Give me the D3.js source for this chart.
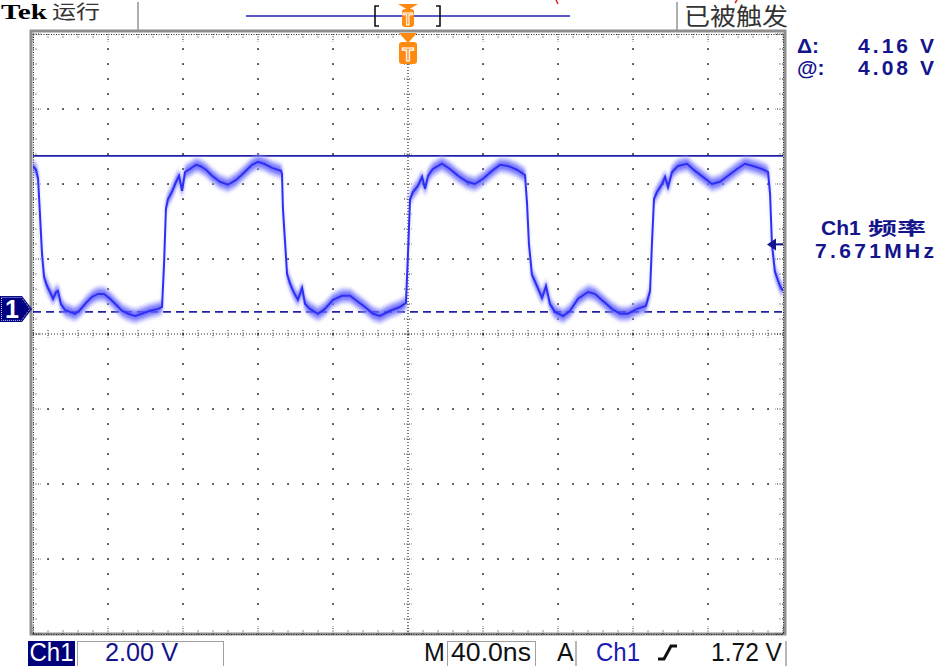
<!DOCTYPE html>
<html><head><meta charset="utf-8">
<script src="https://cdn.jsdelivr.net/npm/d3@7"></script>
<style>body{margin:0;background:#fff}svg{display:block}</style>
</head><body>
<svg id="c" width="935" height="666"></svg>
<script>
// ---- data ----
const timeNs = [-200.0,-198.4,-197.3,-196.3,-195.2,-194.1,-192.5,-190.9,-189.3,-187.7,-186.7,-185.1,-182.9,-180.3,-177.6,-174.9,-171.7,-168.5,-165.3,-162.1,-158.9,-155.7,-152.5,-149.3,-145.6,-141.9,-137.6,-133.3,-131.2,-130.1,-129.1,-128.0,-125.9,-123.7,-122.1,-120.5,-118.9,-116.3,-113.1,-110.9,-107.7,-104.5,-100.3,-96.0,-91.7,-87.5,-83.2,-80.0,-76.8,-72.5,-67.7,-67.2,-66.7,-64.5,-62.9,-61.3,-58.7,-56.5,-54.9,-52.3,-48.0,-44.3,-40.0,-35.2,-30.9,-27.2,-22.9,-18.7,-14.9,-9.6,-4.3,-1.1,0,1.1,2.7,5.3,7.5,9.1,10.7,13.3,18.1,22.4,26.7,31.5,35.7,40.0,44.8,49.1,53.3,58.1,62.4,63.5,64.5,66.1,68.8,71.5,73.6,75.7,78.4,82.7,86.4,90.7,96.0,99.7,104.0,108.8,113.1,117.3,122.1,126.9,129.1,130.1,131.2,132.8,135.5,137.1,138.7,140.8,144.0,148.8,153.1,157.3,162.1,166.4,170.7,175.5,179.7,184.0,188.8,192.0,193.1,194.1,195.7,198.4,200.0];
const ch1Volts = [3.81,3.71,3.47,2.53,1.47,0.85,0.61,0.45,0.27,0.45,0.48,0.13,-0.03,-0.08,-0.13,-0.03,0.16,0.32,0.40,0.40,0.27,0.11,-0.05,-0.13,-0.19,-0.13,-0.05,0.00,0.05,1.20,2.67,2.93,3.12,3.39,3.55,3.15,3.65,3.73,3.84,3.81,3.71,3.55,3.39,3.31,3.44,3.63,3.84,3.92,3.87,3.76,3.68,3.60,2.67,0.93,0.67,0.48,0.24,0.56,0.13,0.00,-0.13,0.00,0.24,0.35,0.35,0.21,0.05,-0.13,-0.19,-0.05,0.05,0.16,1.47,2.93,3.12,3.28,3.52,3.20,3.55,3.73,3.87,3.73,3.55,3.39,3.33,3.47,3.68,3.84,3.81,3.71,3.57,2.80,1.73,0.91,0.61,0.29,0.61,0.13,-0.08,-0.19,-0.05,0.27,0.45,0.40,0.21,0.00,-0.13,-0.13,0.00,0.08,0.48,1.73,2.93,3.12,3.33,3.52,3.25,3.65,3.81,3.87,3.68,3.52,3.33,3.39,3.55,3.73,3.87,3.81,3.73,3.65,3.07,1.73,0.99,0.61,0.48];
const voltsPerDiv = 2.0;
const nsPerDiv = 40.0;
const centerVolts = -0.67;          // screen centre in volts (channel position)
const cursorVolts = [4.08, -0.08];  // solid (@) and dashed cursor; delta 4.16 V
const trigLevelV = 1.72;
const trigTimeNs = 0;
const headerLeft = ["Tek", "运行"];
const headerRight = "已被触发";
const readouts = [["Δ:", "4.16 V"], ["@:", "4.08 V"]];
const freqLabel = ["Ch1", "频率", "7.671MHz"];
const footer = {ch: "Ch1", scale: "2.00 V", M: "M", time: "40.0ns", A: "A", trigCh: "Ch1", level: "1.72 V"};

// ---- layout ----
const L = 33, R = 783, T = 34, B = 634;
const svg = d3.select('#c');
const navy = '#14148c', gridC = '#2a2a2a';
const sans = '"Liberation Sans", Arial, sans-serif';
const cjk = '"Noto Sans CJK SC", sans-serif';

const divX = d3.scaleLinear().domain([-5, 5]).range([L, R]);
const divY = d3.scaleLinear().domain([-4, 4]).range([B, T]);
const x = d3.scaleLinear().domain([-5 * nsPerDiv, 5 * nsPerDiv]).range([L, R]);
const y = d3.scaleLinear().domain([centerVolts - 4 * voltsPerDiv, centerVolts + 4 * voltsPerDiv]).range([B, T]);

svg.append('rect').attr('width', 935).attr('height', 666).attr('fill', '#fff');

// ---- graticule ----
const g = svg.append('g');
g.append('rect').attr('x', L - 2).attr('y', T - 3).attr('width', R - L + 4).attr('height', B - T + 3)
  .attr('fill', 'none').attr('stroke', '#8e8e8e').attr('stroke-width', 3);

const minor = d3.range(-25, 26).map(d => d / 5);
const minorY = d3.range(-20, 21).map(d => d / 5);
const dots = [];
d3.range(-4, 5).filter(i => i !== 0).forEach(i => minorY.forEach(j => { if (Math.abs(j) < 4) dots.push([divX(i), divY(j)]); }));
d3.range(-3, 4).filter(k => k !== 0).forEach(k => minor.forEach(j => { if (Math.abs(j) < 5 && !Number.isInteger(j)) dots.push([divX(j), divY(k)]); }));
g.selectAll('rect.dot').data(dots).join('rect').attr('class', 'dot')
  .attr('x', d => d[0] - 0.8).attr('y', d => d[1] - 0.8).attr('width', 1.7).attr('height', 1.7).attr('fill', gridC);

g.append('line').attr('x1', divX(0)).attr('x2', divX(0)).attr('y1', T).attr('y2', B)
  .attr('stroke', gridC).attr('stroke-width', 1.2).attr('stroke-dasharray', '1,2');
g.append('line').attr('x1', L).attr('x2', R).attr('y1', divY(0)).attr('y2', divY(0))
  .attr('stroke', gridC).attr('stroke-width', 1.2).attr('stroke-dasharray', '1,2');
g.selectAll('line.cvt').data(minorY).join('line').attr('class', 'cvt')
  .attr('x1', divX(0) - 4).attr('x2', divX(0) + 4).attr('y1', d => divY(d)).attr('y2', d => divY(d))
  .attr('stroke', gridC).attr('stroke-width', 1).attr('stroke-dasharray', '1,1.5');
g.selectAll('line.cht').data(minor).join('line').attr('class', 'cht')
  .attr('y1', divY(0) - 4).attr('y2', divY(0) + 4).attr('x1', d => divX(d)).attr('x2', d => divX(d))
  .attr('stroke', gridC).attr('stroke-width', 1).attr('stroke-dasharray', '1,1.5');

[[L, T, R, T], [L, B, R, B], [L, T, L, B], [R, T, R, B]].forEach(s =>
  g.append('line').attr('x1', s[0] + 0.5).attr('y1', s[1] + 0.5).attr('x2', s[2] + 0.5).attr('y2', s[3] + 0.5)
    .attr('stroke', gridC).attr('stroke-width', 1).attr('stroke-dasharray', '1,1.5'));
minor.forEach(d => {
  const len = Number.isInteger(d) ? 8 : 4;
  g.append('line').attr('x1', divX(d)).attr('x2', divX(d)).attr('y1', T).attr('y2', T + len).attr('stroke', gridC).attr('stroke-dasharray', '1,1.5');
  g.append('line').attr('x1', divX(d)).attr('x2', divX(d)).attr('y1', B).attr('y2', B - len).attr('stroke', gridC).attr('stroke-dasharray', '1,1.5');
});
minorY.forEach(d => {
  const len = Number.isInteger(d) ? 8 : 4;
  g.append('line').attr('y1', divY(d)).attr('y2', divY(d)).attr('x1', L).attr('x2', L + len).attr('stroke', gridC).attr('stroke-dasharray', '1,1.5');
  g.append('line').attr('y1', divY(d)).attr('y2', divY(d)).attr('x1', R).attr('x2', R - len).attr('stroke', gridC).attr('stroke-dasharray', '1,1.5');
});

// ---- cursors ----
svg.append('line').attr('x1', L).attr('x2', R).attr('y1', y(cursorVolts[0])).attr('y2', y(cursorVolts[0]))
  .attr('stroke', '#2020a8').attr('stroke-width', 1.8);
svg.append('line').attr('x1', L).attr('x2', R).attr('y1', y(cursorVolts[1])).attr('y2', y(cursorVolts[1]))
  .attr('stroke', '#2020a8').attr('stroke-width', 1.8).attr('stroke-dasharray', '8,5');

// ---- trace (persistence band + core) ----
const defs = svg.append('defs');
defs.append('clipPath').attr('id', 'clip').append('rect').attr('x', L).attr('y', T).attr('width', R - L).attr('height', B - T);
defs.append('filter').attr('id', 'blur').append('feGaussianBlur').attr('stdDeviation', 1.8);
const pts = timeNs.map((t, i) => [t, ch1Volts[i]]);
const tr = svg.append('g').attr('clip-path', 'url(#clip)');
const band = h => d3.area().x(d => x(d[0])).y0(d => y(d[1]) - h).y1(d => y(d[1]) + h);
tr.append('path').attr('d', band(8)(pts)).attr('fill', 'rgba(155,155,255,0.55)').attr('filter', 'url(#blur)');
tr.append('path').attr('d', band(4.5)(pts)).attr('fill', 'rgba(70,70,250,0.6)').attr('filter', 'url(#blur)');
tr.append('path').attr('d', d3.line().x(d => x(d[0])).y(d => y(d[1]))(pts))
  .attr('fill', 'none').attr('stroke', '#2f2ff4').attr('stroke-width', 2);

// ---- channel ground marker ----
const gy = y(0);
svg.append('path').attr('d', `M0,${gy - 13}H22L32,${gy}L22,${gy + 13}H0Z`).attr('fill', '#000080');
svg.append('path').attr('d', `M1.5,${gy - 11.5}H21.5L30,${gy}L21.5,${gy + 11.5}H1.5Z`).attr('fill', 'none')
  .attr('stroke', '#c8c8ff').attr('stroke-width', 1).attr('stroke-dasharray', '1,1');
svg.append('text').attr('x', 12).attr('y', gy + 9).attr('text-anchor', 'middle').attr('fill', '#fff')
  .attr('font-family', sans).attr('font-weight', 'bold').attr('font-size', 25).text('1');

// ---- trigger level arrow (right) ----
const ty = y(trigLevelV);
svg.append('path').attr('d', `M767,${ty}L776,${ty - 6}V${ty + 6}Z`).attr('fill', navy);
svg.append('line').attr('x1', 775).attr('x2', R).attr('y1', ty).attr('y2', ty).attr('stroke', navy).attr('stroke-width', 2);

// ---- top bar ----
svg.append('text').attr('x', 1).attr('y', 19).attr('font-family', '"Liberation Serif", serif').attr('font-weight', 'bold')
  .attr('font-size', 20).attr('textLength', 46).attr('lengthAdjust', 'spacingAndGlyphs').attr('fill', '#000').text(headerLeft[0]);
svg.append('text').attr('x', 52).attr('y', 19).attr('font-family', cjk).attr('font-size', 19)
  .attr('textLength', 48).attr('lengthAdjust', 'spacingAndGlyphs').attr('fill', '#333').text(headerLeft[1]);
svg.append('text').attr('x', 684).attr('y', 25).attr('font-family', cjk).attr('font-size', 24)
  .attr('textLength', 104).attr('lengthAdjust', 'spacingAndGlyphs').attr('fill', '#333').text(headerRight);
[138, 677].forEach(sx => svg.append('line').attr('x1', sx).attr('x2', sx).attr('y1', 2).attr('y2', 30)
  .attr('stroke', '#9a9a9a').attr('stroke-width', 1.6));
svg.append('line').attr('x1', 246).attr('x2', 570).attr('y1', 16).attr('y2', 16).attr('stroke', '#2323b0').attr('stroke-width', 1.6);
svg.append('path').attr('d', 'M379,6H375V26H379M436,6H440V26H436').attr('fill', 'none').attr('stroke', '#111').attr('stroke-width', 1.6);
svg.append('path').attr('d', 'M556,0L558,4').attr('stroke', '#e02020').attr('stroke-width', 1.5);
svg.append('path').attr('d', 'M737,0L735,3').attr('stroke', '#e02020').attr('stroke-width', 1.5);

// trigger position markers
const tx = x(trigTimeNs), orange = '#ff8a10';
svg.append('path').attr('d', `M${tx - 10},4H${tx + 10}L${tx},10Z`).attr('fill', orange);
svg.append('rect').attr('x', tx - 6).attr('y', 9).attr('width', 12).attr('height', 18).attr('rx', 3).attr('fill', orange);
svg.append('text').attr('x', tx).attr('y', 25).attr('text-anchor', 'middle').attr('font-family', sans).attr('font-weight', 'bold')
  .attr('font-size', 16).attr('fill', orange).attr('stroke', '#fff').attr('stroke-width', 1).text('T');
svg.append('path').attr('d', `M${tx - 9},33H${tx + 9}L${tx},43Z`).attr('fill', orange);
svg.append('rect').attr('x', tx - 9).attr('y', 42).attr('width', 18).attr('height', 22).attr('rx', 3).attr('fill', orange);
svg.append('text').attr('x', tx).attr('y', 61).attr('text-anchor', 'middle').attr('font-family', sans).attr('font-weight', 'bold')
  .attr('font-size', 19).attr('fill', orange).attr('stroke', '#fff').attr('stroke-width', 1.2).text('T');

// ---- right readouts ----
readouts.forEach((r, i) => {
  const by = 53 + i * 22;
  svg.append('text').attr('x', 797).attr('y', by).attr('font-family', sans).attr('font-weight', 'bold')
    .attr('font-size', 21).attr('fill', navy).text(r[0]);
  svg.append('text').attr('x', 858).attr('y', by).attr('font-family', sans).attr('font-weight', 'bold')
    .attr('font-size', 21).attr('textLength', 76).attr('lengthAdjust', 'spacing').attr('fill', navy).text(r[1]);
});
svg.append('text').attr('x', 821).attr('y', 235).attr('font-family', sans).attr('font-weight', 'bold')
  .attr('font-size', 21).attr('fill', navy).text(freqLabel[0]);
svg.append('text').attr('x', 868).attr('y', 235).attr('font-family', cjk).attr('font-weight', 'bold')
  .attr('font-size', 18).attr('textLength', 58).attr('lengthAdjust', 'spacingAndGlyphs').attr('fill', navy).text(freqLabel[1]);
svg.append('text').attr('x', 815).attr('y', 258).attr('font-family', sans).attr('font-weight', 'bold')
  .attr('font-size', 21).attr('textLength', 119).attr('lengthAdjust', 'spacing').attr('fill', navy).text(freqLabel[2]);

// ---- bottom bar ----
const fy = 661, fs = 25;
svg.append('rect').attr('x', 28).attr('y', 641).attr('width', 47).attr('height', 25).attr('fill', '#00007a');
svg.append('text').attr('x', 51.5).attr('y', fy).attr('text-anchor', 'middle').attr('font-family', sans)
  .attr('font-size', fs).attr('textLength', 44).attr('lengthAdjust', 'spacingAndGlyphs').attr('fill', '#fff').text(footer.ch);
svg.append('rect').attr('x', 77.5).attr('y', 641.5).attr('width', 146).attr('height', 26).attr('fill', 'none').attr('stroke', '#a0a0a0');
svg.append('text').attr('x', 105).attr('y', fy).attr('font-family', sans).attr('font-size', fs)
  .attr('textLength', 73).attr('lengthAdjust', 'spacingAndGlyphs').attr('fill', navy).text(footer.scale);
svg.append('text').attr('x', 424).attr('y', fy).attr('font-family', sans).attr('font-size', fs).attr('fill', '#111').text(footer.M);
svg.append('rect').attr('x', 447.5).attr('y', 641.5).attr('width', 88).attr('height', 26).attr('fill', 'none').attr('stroke', '#a0a0a0');
svg.append('text').attr('x', 451).attr('y', fy).attr('font-family', sans).attr('font-size', fs)
  .attr('textLength', 80).attr('lengthAdjust', 'spacingAndGlyphs').attr('fill', '#111').text(footer.time);
svg.append('text').attr('x', 557).attr('y', fy).attr('font-family', sans).attr('font-size', fs).attr('fill', '#111').text(footer.A);
[576, 786].forEach(sx => svg.append('line').attr('x1', sx).attr('x2', sx).attr('y1', 641).attr('y2', 666).attr('stroke', '#a0a0a0').attr('stroke-width', 1.5));
svg.append('text').attr('x', 596).attr('y', fy).attr('font-family', sans).attr('font-size', fs)
  .attr('textLength', 44).attr('lengthAdjust', 'spacingAndGlyphs').attr('fill', '#1a1ab4').text(footer.trigCh);
svg.append('path').attr('d', 'M658,659H664L671,646H677').attr('fill', 'none').attr('stroke', '#111').attr('stroke-width', 3);
svg.append('text').attr('x', 711).attr('y', fy).attr('font-family', sans).attr('font-size', fs)
  .attr('textLength', 71).attr('lengthAdjust', 'spacingAndGlyphs').attr('fill', '#111').text(footer.level);
</script>
</body></html>
